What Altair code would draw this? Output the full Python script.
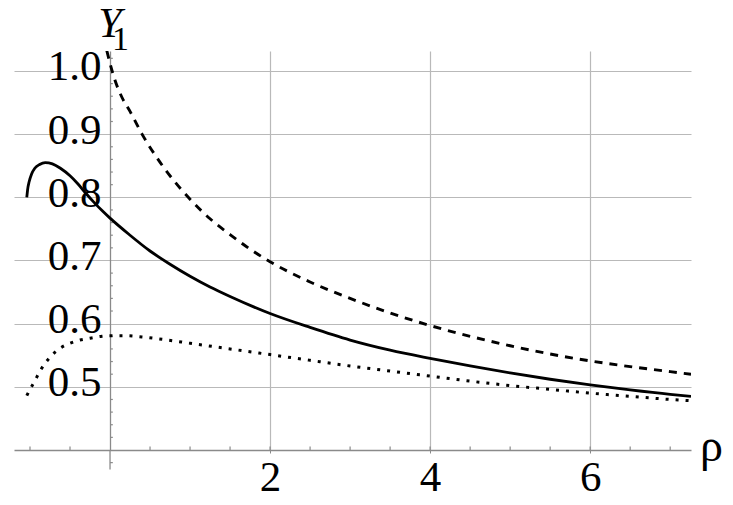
import altair as alt
import pandas as pd

# ---- data ----
solid_x = [-1.04, -1.03, -1.01, -0.98, -0.94, -0.88, -0.81, -0.72, -0.62, -0.5, -0.4, -0.3, -0.2, -0.1,
           0.0, 0.25, 0.5, 0.75, 1.0, 1.25, 1.5, 2.0, 2.5, 3.0, 3.5, 4.0, 4.5, 5.0, 5.5, 6.0, 6.5, 7.0, 7.26]
solid_y = [0.800, 0.812, 0.825, 0.837, 0.846, 0.852, 0.855, 0.853, 0.846, 0.834, 0.821, 0.806, 0.792, 0.779,
           0.767, 0.740, 0.715, 0.694, 0.675, 0.658, 0.643, 0.616, 0.594, 0.574, 0.558, 0.545, 0.533, 0.522,
           0.512, 0.503, 0.495, 0.488, 0.485]

dashed_x = [-0.04, 0.0, 0.06, 0.15, 0.25, 0.4, 0.6, 0.8, 1.0, 1.25, 1.5, 1.75, 2.0, 2.5, 3.0, 3.5, 4.0,
            4.5, 5.0, 5.5, 6.0, 6.5, 7.0, 7.26]
dashed_y = [1.032, 1.012, 0.986, 0.958, 0.936, 0.900, 0.860, 0.826, 0.797, 0.766, 0.741, 0.718, 0.698,
            0.666, 0.640, 0.617, 0.597, 0.580, 0.565, 0.552, 0.541, 0.532, 0.524, 0.520]

dotted_x = [-1.04, -1.0, -0.95, -0.875, -0.75, -0.625, -0.5, -0.375, -0.25, -0.1, 0.0, 0.2, 0.4, 0.6, 1.0,
            1.5, 2.0, 2.5, 3.0, 3.5, 4.0, 4.5, 5.0, 5.5, 6.0, 6.5, 7.0, 7.26]
dotted_y = [0.486, 0.496, 0.507, 0.525, 0.547, 0.561, 0.569, 0.574, 0.577, 0.580, 0.581, 0.581, 0.579,
            0.576, 0.569, 0.560, 0.551, 0.542, 0.533, 0.525, 0.517, 0.509, 0.502, 0.496, 0.490, 0.485,
            0.480, 0.478]

x_major = [2, 4, 6]
y_major = [0.5, 0.6, 0.7, 0.8, 0.9, 1.0]
x_minor = [-1.0, -0.5, 0.5, 1.0, 1.5, 2.0, 2.5, 3.0, 3.5, 4.0, 4.5, 5.0, 5.5, 6.0, 6.5, 7.0]
y_minor = [0.38, 0.42, 0.44, 0.46, 0.48, 0.52, 0.54, 0.56, 0.58, 0.62, 0.64, 0.66, 0.68, 0.72, 0.74,
           0.76, 0.78, 0.82, 0.84, 0.86, 0.88, 0.92, 0.94, 0.96, 0.98, 1.02]

X_DOMAIN = [-1.2, 7.26]
Y_DOMAIN = [0.4, 1.0316]
X_AXIS_AT = 0.4          # where the horizontal axis sits
Y_AXIS_LOW = 0.369       # y axis runs a little below the x axis
Y_TICK_LEN = 0.035       # minor tick length (x units)
X_TICK_LEN = 0.0055      # minor tick length (y units)

FONT = "Liberation Serif"
GRID = "#b9b9b9"
AXC = "#8a8a8a"
W, H = 677, 399

xs = alt.Scale(domain=X_DOMAIN, nice=False, zero=False)
ys = alt.Scale(domain=Y_DOMAIN, nice=False, zero=False)

x_axis = alt.Axis(values=x_major, format="d", grid=True, gridColor=GRID, gridWidth=1.2,
                  domainColor=AXC, domainWidth=1.3, ticks=True, tickSize=3, tickColor=AXC,
                  labelFont=FONT, labelFontSize=43, labelColor="black", labelPadding=3,
                  title=None)
y_axis = alt.Axis(values=y_major, format=".1f", grid=True, gridColor=GRID, gridWidth=1.2,
                  domainColor=AXC, domainWidth=1.3, ticks=False, tickSize=0,
                  labelFont=FONT, labelFontSize=43, labelColor="black", labelPadding=9,
                  labelOffset=-4, offset=-96, title=None)

X = alt.X("x:Q", scale=xs, axis=x_axis)
Y = alt.Y("y:Q", scale=ys, axis=y_axis)

solid = alt.Chart(pd.DataFrame({"x": solid_x, "y": solid_y})).mark_line(
    color="black", strokeWidth=2.8, interpolate="monotone", clip=True).encode(x=X, y=Y)
dashed = alt.Chart(pd.DataFrame({"x": dashed_x, "y": dashed_y})).mark_line(
    color="black", strokeWidth=2.9, strokeDash=[8, 7], interpolate="monotone", clip=True).encode(x=X, y=Y)
dotted = alt.Chart(pd.DataFrame({"x": dotted_x, "y": dotted_y})).mark_line(
    color="black", strokeWidth=3, strokeDash=[3, 7], interpolate="monotone", clip=True).encode(x=X, y=Y)

xtick_df = pd.DataFrame({"x": x_minor, "y": [X_AXIS_AT] * len(x_minor),
                         "y2": [X_AXIS_AT + X_TICK_LEN] * len(x_minor)})
xticks = alt.Chart(xtick_df).mark_rule(color=AXC, strokeWidth=1.2).encode(
    x=X, y=Y, y2=alt.Y2("y2:Q"))

ytick_df = pd.DataFrame({"y": y_minor, "x": [0.0] * len(y_minor),
                         "x2": [Y_TICK_LEN] * len(y_minor)})
yticks = alt.Chart(ytick_df).mark_rule(color=AXC, strokeWidth=1.2).encode(
    x=X, x2=alt.X2("x2:Q"), y=Y)

yext = alt.Chart(pd.DataFrame({"x": [0.0], "y": [Y_AXIS_LOW], "y2": [X_AXIS_AT]})).mark_rule(
    color=AXC, strokeWidth=1.3).encode(x=X, y=Y, y2=alt.Y2("y2:Q"))

label_df = pd.DataFrame({"x": [0.0], "y": [Y_DOMAIN[1]]})
ylab = alt.Chart(label_df).mark_text(
    text="Y", font=FONT, fontSize=42, fontStyle="italic", align="center",
    baseline="alphabetic", dy=-14, color="black").encode(x=X, y=Y)
ysub = alt.Chart(label_df).mark_text(
    text="1", font=FONT, fontSize=34, align="left", baseline="alphabetic",
    dx=2, dy=-1, color="black").encode(x=X, y=Y)

rho_df = pd.DataFrame({"x": [X_DOMAIN[1]], "y": [X_AXIS_AT]})
rho = alt.Chart(rho_df).mark_text(
    text="ρ", font=FONT, fontSize=46, align="left", baseline="alphabetic",
    dx=9, dy=11, color="black").encode(x=X, y=Y)

chart = alt.layer(xticks, yticks, yext, dotted, dashed, solid, ylab, ysub, rho).properties(
    width=W, height=H,
    autosize=alt.AutoSizeParams(type="none"),
    padding={"left": 6, "top": 43, "right": 34, "bottom": 47},
    background="white",
).configure_view(stroke=None)

chart.save("out.html", embed_options={"renderer": "svg", "actions": False})
